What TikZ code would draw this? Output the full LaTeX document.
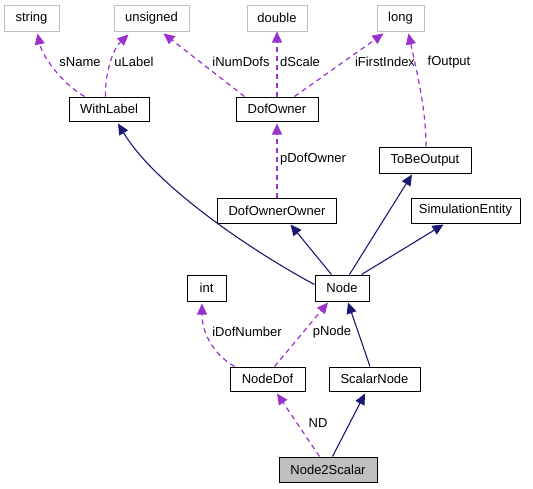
\documentclass[tikz,border=0pt]{standalone}
\usepackage{fontspec}
\setmainfont{Liberation Sans}
\usetikzlibrary{arrows.meta}
\definecolor{navyedge}{HTML}{191970}
\definecolor{purpedge}{HTML}{9A32CD}
\definecolor{grayborder}{HTML}{BFBFBF}
\tikzset{
  cls/.style={draw=black, line width=1pt, rectangle, inner sep=0pt, minimum height=25pt, font=\fontsize{13}{15}\selectfont},
  extcls/.style={draw=grayborder, line width=1pt, rectangle, inner sep=0pt, minimum height=26pt, font=\fontsize{13}{15}\selectfont},
  curcls/.style={cls, fill=grayborder},
  inherit/.style={draw=navyedge, line width=1.1pt, -{Triangle[length=11pt,width=10pt]}},
  usage/.style={draw=purpedge, line width=1.2pt, dash pattern=on 5pt off 4pt, -{Triangle[length=11pt,width=10pt,fill=purpedge]}},
  lbl/.style={font=\fontsize{13}{15}\selectfont, inner sep=0pt, anchor=center}
}
\begin{document}
\begin{tikzpicture}[x=1pt,y=-1pt]
\useasboundingbox (0,0) rectangle (533,488);
% nodes
\node[extcls, minimum width=55pt] (string) at (31.5,18) {string};
\node[extcls, minimum width=75pt] (unsigned) at (151.5,18) {unsigned};
\node[extcls, minimum width=60pt] (double) at (277,18) {double};
\node[extcls, minimum width=47pt] (long) at (400.5,18) {long};
\node[cls, minimum width=80pt, minimum height=24pt] (WithLabel) at (109,109) {WithLabel};
\node[cls, minimum width=82pt, minimum height=24pt] (DofOwner) at (277,109) {DofOwner};
\node[cls, minimum width=92pt, minimum height=26pt] (ToBeOutput) at (425,160) {ToBeOutput};
\node[cls, minimum width=119pt] (DofOwnerOwner) at (277,210.5) {DofOwnerOwner};
\node[cls, minimum width=109pt] (SimulationEntity) at (465.5,210.5) {SimulationEntity};
\node[cls, minimum width=54pt, minimum height=26pt] (Node) at (342,288) {Node};
\node[cls, minimum width=39pt, minimum height=26pt] (int) at (206.5,288) {int};
\node[cls, minimum width=75pt, minimum height=24pt] (NodeDof) at (267.5,379) {NodeDof};
\node[cls, minimum width=91pt, minimum height=24pt] (ScalarNode) at (374.5,379) {ScalarNode};
\node[curcls, minimum width=98pt] (Node2Scalar) at (328,469.5) {Node2Scalar};
% usage edges (top)
\draw[usage] ([xshift=16pt]WithLabel.north west) .. controls (60,82) and (42,55) .. ([xshift=6pt,yshift=-2pt]string.south);
\draw[usage] ([xshift=37pt]WithLabel.north west) .. controls (105,75) and (112,50) .. ([xshift=-23pt,yshift=-3pt]unsigned.south);
\draw[usage] ([xshift=9pt]DofOwner.north west) -- ([xshift=12pt,yshift=-2pt]unsigned.south);
\draw[usage] (DofOwner.north) -- (double.south);
\draw[usage] ([xshift=59pt]DofOwner.north west) -- ([xshift=-17pt,yshift=-2pt]long.south);
\draw[usage] ([xshift=1pt]ToBeOutput.north) .. controls (426,115) and (420,85) .. ([xshift=8pt,yshift=-2pt]long.south);
\draw[usage] (DofOwnerOwner.north) -- ([yshift=-2pt]DofOwner.south);
% inheritance edges
\draw[inherit] ([yshift=-10pt]Node.north west) .. controls (250,250) and (155,185) .. ([xshift=9pt,yshift=-2pt]WithLabel.south);
\draw[inherit] ([xshift=17pt]Node.north west) -- ([xshift=13.5pt,yshift=-1pt]DofOwnerOwner.south);
\draw[inherit] ([xshift=35pt]Node.north west) -- ([xshift=-13pt,yshift=-1pt]ToBeOutput.south);
\draw[inherit] ([xshift=47pt]Node.north west) -- ([xshift=-22pt,yshift=-1pt]SimulationEntity.south);
\draw[usage] ([xshift=5pt]NodeDof.north west) .. controls (215,355) and (202,335) .. ([xshift=-4.5pt,yshift=-2pt]int.south);
\draw[usage] ([xshift=45pt]NodeDof.north west) -- ([xshift=-14pt,yshift=-1pt]Node.south);
\draw[inherit] ([xshift=-4.5pt]ScalarNode.north) -- ([xshift=6pt,yshift=-1pt]Node.south);
\draw[usage] ([xshift=41pt]Node2Scalar.north west) -- ([xshift=9.5pt,yshift=-2pt]NodeDof.south);
\draw[inherit] ([xshift=54pt]Node2Scalar.north west) -- ([xshift=-9.5pt,yshift=-2pt]ScalarNode.south);
% labels
\node[lbl] (lsName) at (80,62) {sName};
\node[lbl] (luLabel) at (134,62) {uLabel};
\node[lbl] (liNumDofs) at (241,62) {iNumDofs};
\node[lbl] (ldScale) at (300,62) {dScale};
\node[lbl] (liFirstIndex) at (385,62) {iFirstIndex};
\node[lbl] (lfOutput) at (449,62) {fOutput};
\node[lbl] (lpDofOwner) at (313,159) {pDofOwner};
\node[lbl] (liDofNumber) at (247,332) {iDofNumber};
\node[lbl] (lpNode) at (332,332) {pNode};
\node[lbl] (lND) at (318,423) {ND};
\end{tikzpicture}
\end{document}
